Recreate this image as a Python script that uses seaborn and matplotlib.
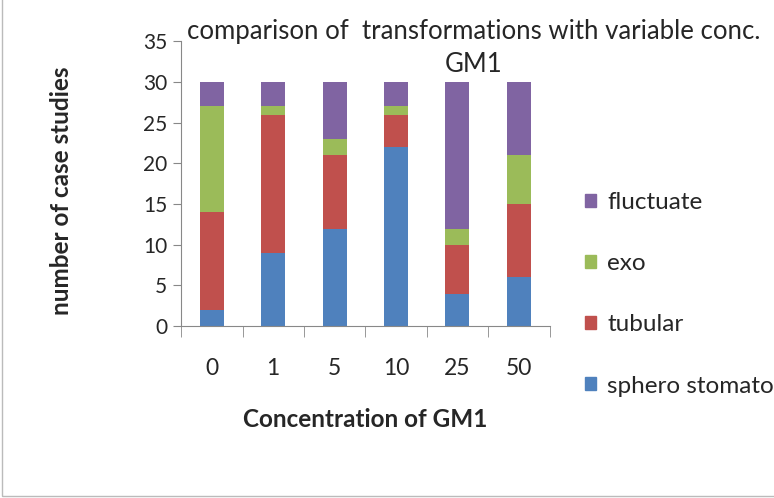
import seaborn as sns
import matplotlib.pyplot as plt
import matplotlib.patches as mpatches
import pandas as pd
import numpy as np

concentrations = ['0', '1', '5', '10', '25', '50']
sphero = [2, 9, 12, 22, 4, 6]
tubular = [12, 17, 9, 4, 6, 9]
exo = [13, 1, 2, 1, 2, 6]
fluctuate = [3, 3, 7, 3, 18, 9]

series = ['sphero stomato', 'tubular', 'exo', 'fluctuate']
colors = ['#4F81BD', '#C0504D', '#9BBB59', '#8064A2']

df = pd.DataFrame({'conc': concentrations, 'sphero stomato': sphero,
                   'tubular': tubular, 'exo': exo, 'fluctuate': fluctuate})
# cumulative tops, drawn from the tallest down so each layer shows
cum = df[series].cumsum(axis=1)

sns.set_style('white')
plt.rcParams['font.family'] = ['Lato', 'DejaVu Sans']

fig = plt.figure(figsize=(7.74, 4.98), dpi=100)
ax = fig.add_axes([0.234, 0.345, 0.476, 0.572])

for name, col in reversed(list(zip(series, colors))):
    sns.barplot(x=df['conc'], y=cum[name], order=concentrations, color=col,
                width=0.39, saturation=1, ax=ax, edgecolor='none')

ax.set_ylim(0, 35)
ax.set_xlim(-0.5, 5.5)
ax.set_yticks(range(0, 36, 5))
ax.tick_params(axis='y', labelsize=15, length=6, color='#888888', direction='out', left=True, pad=4)
ax.tick_params(axis='x', which='major', labelsize=16.5, length=0, pad=23)
ax.set_xticks(np.arange(-0.5, 6, 1), minor=True)
ax.tick_params(axis='x', which='minor', length=8, color='#888888', direction='out', bottom=True)
for s in ['top', 'right']:
    ax.spines[s].set_visible(False)
for s in ['left', 'bottom']:
    ax.spines[s].set_color('#888888')
ax.set_xlabel('Concentration of GM1', fontsize=17.5, fontweight='bold')
ax.set_ylabel('number of case studies', fontsize=17.5, fontweight='bold')
ax.xaxis.set_label_coords((365 - 181) / 368, (326 - 419) / 285)
ax.xaxis.label.set_va('center')
ax.yaxis.set_label_coords((62 - 181) / 368, (326 - 190) / 285)
ax.yaxis.label.set_va('center')

fig.text(0.612, 1 - 48 / 498, 'comparison of  transformations with variable conc.\nGM1',
         ha='center', va='center', fontsize=18.5, linespacing=1.4)

handles = [mpatches.Patch(color=c, label=s) for s, c in zip(series, colors)][::-1]
fig.legend(handles=handles, loc='upper left', bbox_to_anchor=(0.728, 0.658),
           frameon=False, fontsize=17.5, labelspacing=1.65, handlelength=0.45,
           handleheight=0.45, handletextpad=0.45)

fig.add_artist(mpatches.Rectangle((0.002, 0.004), 1.2, 1.2, transform=fig.transFigure,
                                  fill=False, edgecolor='#BBBBBB', linewidth=1))

fig.savefig('out.png', dpi=100)
